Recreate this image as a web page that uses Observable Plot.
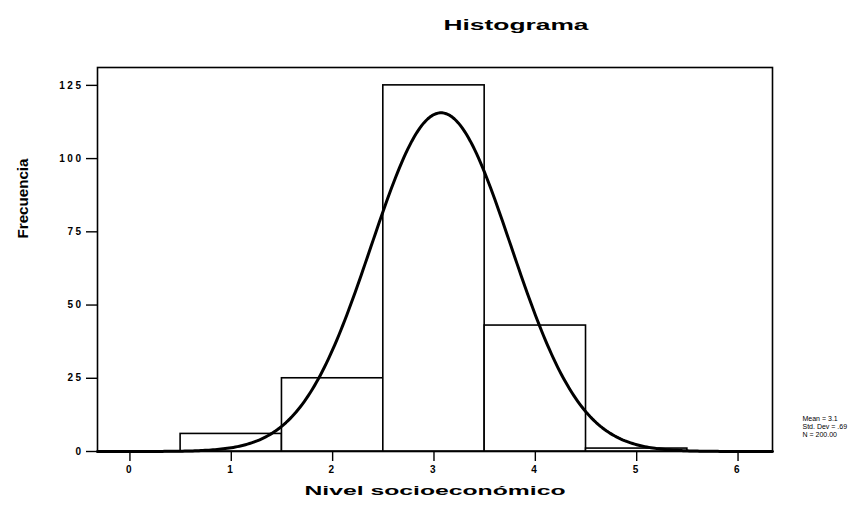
<!DOCTYPE html>
<html><head><meta charset="utf-8">
<script src="https://cdn.jsdelivr.net/npm/d3@7"></script>
<script src="https://cdn.jsdelivr.net/npm/@observablehq/plot@0.6"></script>
<style>
body{margin:0;overflow:hidden;background:#fff}
#chart svg{overflow:hidden}
</style>
</head><body><div id="chart"></div>
<script>
// Data
const levels = [1, 2, 3, 4, 5];
const frequencies = [6, 25, 125, 43, 1];
const xTicks = [0, 1, 2, 3, 4, 5, 6];
const yTicks = [0, 25, 50, 75, 100, 125];
const statMean = 3.07;
const statSd = 0.69;
const statN = 200;
const legendLines = ["Mean = 3.1", "Std. Dev = .69", "N = 200.00"];
const titleText = "Histograma";
const xLabel = "Nivel socioeconómico";
const yLabel = "Frecuencia";

const bars = levels.map((l, i) => ({level: l, count: frequencies[i]}));
// fitted normal curve (from the histogram's mean, sd and N; bin width 1)
const xDomain = [-0.32, 6.34];
const curve = d3.range(xDomain[0], xDomain[1] + 0.001, 0.02).map(x => ({
  x, y: statN / (statSd * Math.sqrt(2 * Math.PI)) * Math.exp(-0.5 * ((x - statMean) / statSd) ** 2)
}));

const chart = Plot.plot({
  width: 861, height: 505,
  marginLeft: 97, marginRight: 89, marginTop: 67, marginBottom: 54,
  style: {fontFamily: "'Liberation Sans', Arial, sans-serif", fontSize: "10px", color: "black", background: "white"},
  x: {domain: xDomain},
  y: {domain: [0, 131.1]},
  marks: [
    Plot.rectY(bars, {x1: d => d.level - 0.5, x2: d => d.level + 0.5, y: "count", fill: "white", stroke: "black", strokeWidth: 1.6}),
    Plot.line(curve, {x: "x", y: "y", stroke: "black", strokeWidth: 3}),
    Plot.frame({stroke: "black", strokeWidth: 1.6}),
    Plot.axisX({ticks: xTicks, tickSize: 10, tickPadding: 4, tickFormat: d3.format("d"), label: null, strokeWidth: 1.4, className: "xt"}),
    Plot.axisY({ticks: yTicks, tickSize: 11, tickPadding: 3, tickFormat: d3.format("d"), label: null, strokeWidth: 1.4, className: "yt"}),
    Plot.text([titleText], {frameAnchor: "top", dx: 81, dy: -47, fontSize: 14, fontWeight: "bold", className: "ttl"}),
    Plot.text([yLabel], {frameAnchor: "left", dx: -73.5, dy: -21, rotate: -90, fontSize: 14, fontWeight: "bold", className: "ylab"}),
    Plot.text([xLabel], {frameAnchor: "bottom", dx: 0, dy: 43, fontSize: 12, fontWeight: "bold", className: "xlab"}),
    Plot.text([legendLines.join("\n")], {frameAnchor: "bottom-right", dx: 30, dy: -36, textAnchor: "start", lineAnchor: "top", lineHeight: 1.15, fontSize: 7, className: "leg"})
  ]
});
document.getElementById("chart").appendChild(chart);
const svg = d3.select(chart);
svg.select("g.ttl text").attr("textLength", 145).attr("lengthAdjust", "spacingAndGlyphs");
svg.select("g.ylab text").attr("textLength", 80).attr("lengthAdjust", "spacingAndGlyphs");
svg.select("g.xlab text").attr("textLength", 261).attr("lengthAdjust", "spacingAndGlyphs");
svg.selectAll("g.xt text, g.yt text").style("letter-spacing", "2.5px").style("font-weight", "bold");
</script>
</body></html>
